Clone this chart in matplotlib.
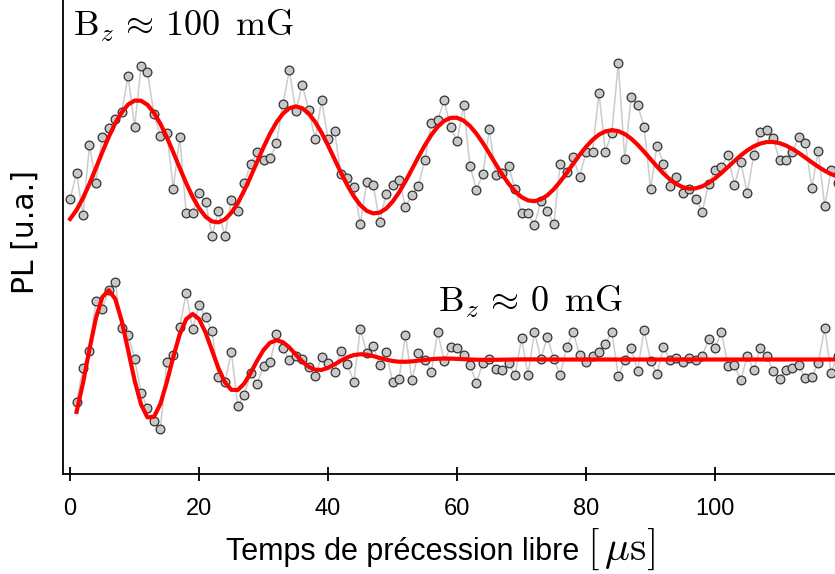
import numpy as np
import matplotlib
matplotlib.use("Agg")
import matplotlib.pyplot as plt

plt.rcParams['mathtext.fontset'] = 'cm'

# temps de precession libre (us), pas de 1 us
t_100 = np.arange(0, 120)
t_0 = np.arange(1, 120)

# PL (u.a.) pour Bz ~ 100 mG
pl_100 = [274.7, 301.3, 259, 329, 291, 337, 346, 355, 362.3, 398,
          347, 408, 402, 360, 338, 341.3, 285.3, 337, 261, 261,
          281, 272.3, 238, 263, 238, 274.3, 263, 291, 310, 322,
          313.7, 315.7, 330.7, 370.3, 403.7, 362.7, 389.3, 364, 334.7, 373.7,
          334.7, 342.7, 299.7, 296.3, 287.3, 250, 292.3, 289.3, 251.7, 280.3,
          288.7, 294, 267, 278.7, 288, 314.3, 350.7, 354, 373.7, 346.7,
          332.7, 368.7, 308.3, 284.3, 299.7, 344.7, 299.3, 300.7, 307.7, 284.7,
          260.7, 260.7, 249.3, 272.7, 263.3, 249.7, 310, 302.3, 316.7, 297,
          322.3, 322.3, 381.3, 322.3, 341.3, 410.7, 315.3, 377, 369, 347.3,
          284.7, 328.3, 310.3, 288.3, 296.7, 280.7, 284.7, 275.3, 262.3, 290,
          304, 307.3, 319, 288.7, 311.7, 280.7, 319, 341.7, 344.3, 335.7,
          313.7, 314.3, 322.3, 337, 331.3, 286, 323.3, 267.7, 304, 291]

# PL (u.a.) pour Bz ~ 0 mG
pl_0 = [72.3, 106, 123, 173, 165.3, 184.3, 191.7, 145.7, 139.3, 115.3,
        81.3, 66, 53, 45.3, 111.7, 118.7, 147, 181.3, 144.7, 169,
        157, 142.7, 97, 91.7, 122.3, 68.3, 79, 101, 90, 108.3,
        111.7, 139.7, 125.7, 114.3, 118.3, 115.3, 107, 98.3, 117.3, 111,
        102.3, 122.7, 109.7, 92.3, 145.3, 121, 128, 108.7, 122.3, 92.3,
        95.3, 138.7, 94.3, 121, 113.7, 102.5, 142, 113, 126.7, 126,
        119.3, 108.7, 91.3, 111, 114.7, 105.3, 103.7, 111, 98.7, 136,
        98.7, 142.3, 115, 137, 115, 99.3, 127, 142, 119.3, 112.3,
        118.3, 121.7, 130.3, 142.3, 97.7, 114, 126, 103.3, 144.3, 113,
        100, 127, 114.3, 116, 111.7, 115.7, 114.3, 118, 134.7, 126,
        142.3, 108, 108.7, 94, 118.3, 104, 125.7, 118, 103.3, 95.3,
        103.7, 106.3, 108.7, 96, 97.3, 110.7, 145.7, 101, 118]

# parametres des ajustements: offset, amplitude, T2*, periode, t0
fit_100 = (311.5, 63.0, 103.0, 24.6, 10.5)
fit_0 = (114.5, 72.5, 28.0, 13.2, 6.0)


def ramsey(t, c, a, tau, per, t0):
    return c + a * np.exp(-(t / tau) ** 2) * np.cos(2 * np.pi * (t - t0) / per)


fig = plt.figure(figsize=(8.35, 5.74), dpi=100)
ax = fig.add_axes([63 / 835, 100 / 574, 772 / 835, 474 / 574])

for t, pl, p in [(t_100, pl_100, fit_100), (t_0, pl_0, fit_0)]:
    ax.plot(t, pl, '-', color='#cccccc', lw=1.1, zorder=1)
    ax.plot(t, pl, 'o', ms=6.3, mfc='#c8c8c8', mec='#333333', mew=0.9, zorder=2)
    ax.plot(t, ramsey(t, *p), '-', color='red', lw=3, zorder=3)

ax.text(0.45, 438, r'$\mathrm{B}_z\,\approx\,100\ \,\mathrm{mG}$', fontsize=26)
ax.text(57, 162, r'$\mathrm{B}_z\,\approx\,0\ \,\mathrm{mG}$', fontsize=26)

ax.set_xlim(-1.1, 118.6)
ax.set_ylim(0, 474)
ax.set_xticks([0, 20, 40, 60, 80, 100])
ax.set_yticks([])
ax.spines['top'].set_visible(False)
ax.spines['right'].set_visible(False)
ax.spines['left'].set_linewidth(1.3)
ax.spines['bottom'].set_linewidth(1.3)
ax.tick_params(axis='x', direction='inout', length=10, width=1.3, pad=12,
               labelsize=17)
for lab in ax.get_xticklabels():
    lab.set_family('Liberation Sans')

fig.text(226 / 835, 1 - 560 / 574, 'Temps de précession libre',
         fontsize=22, family='Liberation Sans', ha='left', va='baseline')
fig.text(587 / 835, 1 - 560 / 574, r'$[\,\mu\mathrm{s}]$',
         fontsize=30, ha='left', va='baseline')
fig.text(25 / 835, 1 - 232 / 574, 'PL [u.a.]', fontsize=21.5,
         rotation=90, ha='center', va='center')

fig.savefig('out.png', dpi=100)
